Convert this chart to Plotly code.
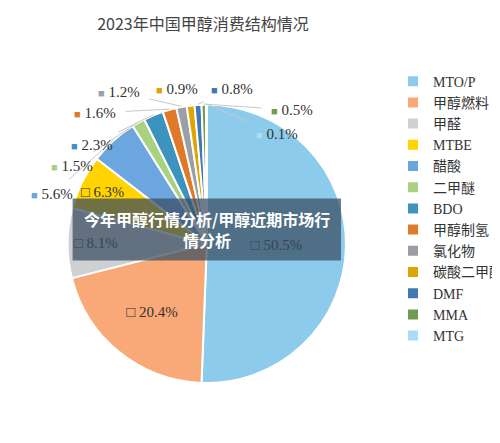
import math
import plotly.graph_objects as go

categories = ["MTO/P", "甲醇燃料", "甲醛", "MTBE", "醋酸", "二甲醚", "BDO", "甲醇制氢", "氯化物", "碳酸二甲酯", "DMF", "MMA", "MTG"]
values = [50.5, 20.4, 8.1, 6.3, 5.6, 1.5, 2.3, 1.6, 1.2, 0.9, 0.8, 0.5, 0.1]
colors = ["#8ccbeb", "#f9a878", "#cfd0d3", "#ffd400", "#6ba7de", "#a8d27f", "#3c93bd", "#e07a28", "#9b9ea4", "#e0a400", "#3f78b4", "#6f9a4f", "#a9dcf5"]

# label placement (pixels) for outside labels of small slices, index 4..12
label_px = {4: (45, 186), 5: (65, 158), 6: (85, 137), 7: (88, 105), 8: (112, 84), 9: (170, 81), 10: (225, 81), 11: (285, 102), 12: (270, 126)}

W, H = 500, 443
cx, cy, R = 200, 236, 140

texts = [f"□ {v:.1f}%" if i < 4 else "" for i, v in enumerate(values)]

fig = go.Figure(go.Pie(
    labels=categories, values=values, sort=False, direction="clockwise", rotation=0,
    marker=dict(colors=colors, line=dict(color="white", width=2)),
    text=texts, textinfo="text", textposition="inside", insidetextorientation="horizontal",
    textfont=dict(family="Liberation Serif", size=15, color="#333"),
    domain=dict(x=[0.12, 0.68], y=[0.15, 0.785]),
    hoverinfo="label+percent",
))

total = sum(values)
annotations = []
cum = 0
for i, v in enumerate(values):
    mid = (cum + v / 2) / total * 2 * math.pi
    cum += v
    if i < 4:
        continue
    px = cx + R * math.sin(mid)
    py = cy - R * math.cos(mid)
    lx, ly = label_px[i]
    annotations.append(dict(
        x=px / W, y=1 - py / H, xref="paper", yref="paper",
        ax=lx - px, ay=ly - py, axref="pixel", ayref="pixel",
        text=f"<span style='color:{colors[i]};font-size:11px'>■</span> {v:.1f}%",
        showarrow=True, arrowhead=0, arrowwidth=1, arrowcolor="#c8c8c8", standoff=0, startstandoff=8,
        font=dict(family="Liberation Serif", size=15, color="#333"),
    ))

annotations.append(dict(text="<b>今年甲醇行情分析/甲醇近期市场行</b><br><b>情分析</b>", x=0.40, y=0.50,
                        xref="paper", yref="paper", showarrow=False,
                        font=dict(family="Noto Sans CJK SC", size=16, color="white")))

fig.update_layout(
    width=W, height=H, margin=dict(l=0, r=0, t=0, b=0),
    paper_bgcolor="white", plot_bgcolor="white",
    title=dict(text="2023年中国甲醇消费结构情况", x=0.39, xanchor="center", y=0.962, yanchor="middle",
               font=dict(family="Noto Sans CJK SC", size=16, color="#444")),
    legend=dict(x=0.775, y=0.87, yanchor="top", font=dict(family="Liberation Serif, Noto Sans CJK SC", size=14, color="#333"),
                tracegroupgap=0, itemwidth=30, traceorder="normal"),
    showlegend=True,
    shapes=[dict(type="rect", xref="paper", yref="paper", x0=0.13, x1=0.67, y0=0.43, y1=0.57,
                 fillcolor="rgba(55,75,95,0.72)", line=dict(width=0), layer="above")],
    annotations=annotations,
)
fig.write_html("out.html")
